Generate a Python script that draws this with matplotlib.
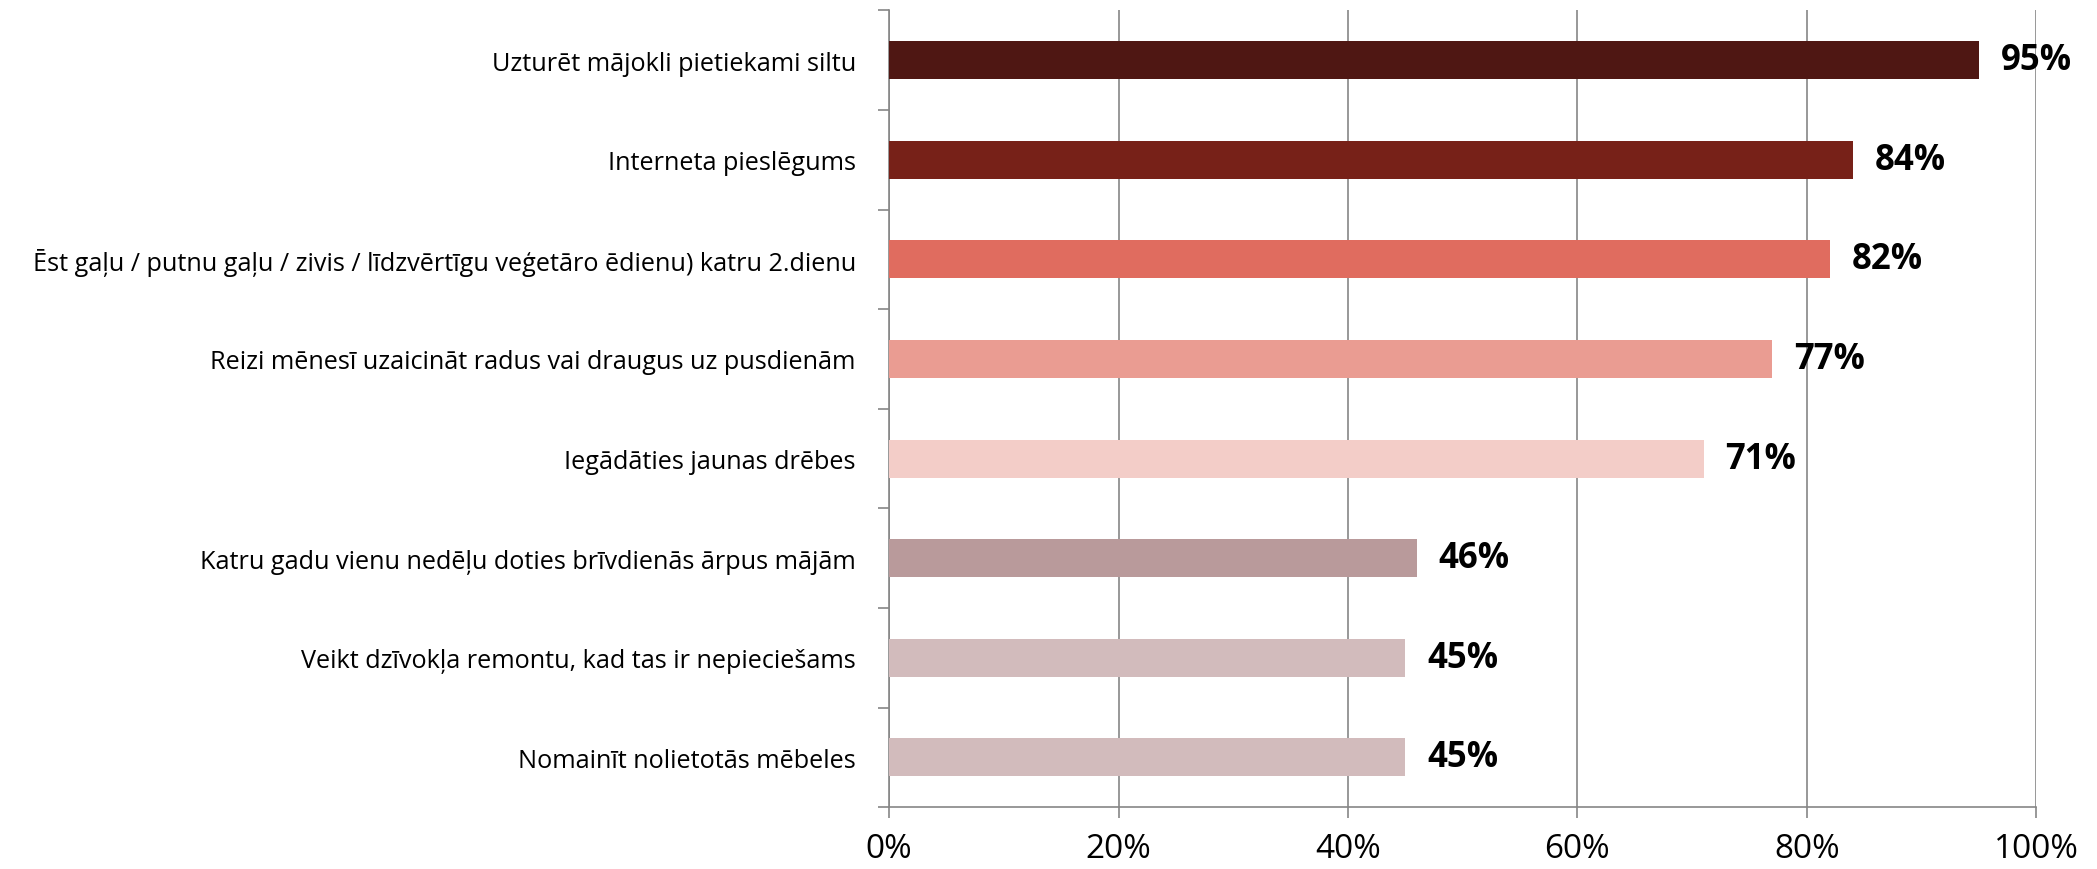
import numpy as np
import matplotlib
matplotlib.use("Agg")
import matplotlib.pyplot as plt
from matplotlib import font_manager

categories = [
    "Uzturēt mājokli pietiekami siltu",
    "Interneta pieslēgums",
    "Ēst gaļu / putnu gaļu / zivis / līdzvērtīgu veģetāro ēdienu) katru 2.dienu",
    "Reizi mēnesī uzaicināt radus vai draugus uz pusdienām",
    "Iegādāties jaunas drēbes",
    "Katru gadu vienu nedēļu doties brīvdienās ārpus mājām",
    "Veikt dzīvokļa remontu, kad tas ir nepieciešams",
    "Nomainīt nolietotās mēbeles",
]
values = [95, 84, 82, 77, 71, 46, 45, 45]
colors = ["#4F1713", "#772118", "#E06C5F", "#EA9C92",
          "#F3CDC8", "#B99A9B", "#D2BBBC", "#D2BBBC"]
x_ticks = [0, 20, 40, 60, 80, 100]

names = {f.name for f in font_manager.fontManager.ttflist}
family = "Liberation Sans Narrow" if "Liberation Sans Narrow" in names else "Open Sans"
plt.rcParams["font.family"] = [family, "DejaVu Sans"]

fig = plt.figure(figsize=(20.97, 8.7), dpi=100)
ax = fig.add_axes([0.424, 0.071, 0.547, 0.916])

y = np.arange(len(categories))
ax.barh(y, values, height=0.38, color=colors, zorder=3)
for yi, v in zip(y, values):
    ax.text(v + 1.9, yi, f"{v}%", va="center", ha="left",
            fontsize=25, fontweight="bold", color="black", zorder=4)

ax.set_xlim(0, 100)
ax.set_ylim(len(categories) - 0.5, -0.5)
ax.set_xticks(x_ticks)
ax.set_xticklabels([f"{t}%" for t in x_ticks], fontsize=24)
ax.set_yticks(y)
ax.set_yticklabels(categories, fontsize=18.2)
ax.set_yticks(np.arange(-0.5, len(categories)), minor=True)
ax.tick_params(axis="y", which="major", length=0, pad=24)
ax.tick_params(axis="y", which="minor", length=8, color="#868686", width=1.2)
ax.tick_params(axis="x", length=8, color="#868686", width=1.2, pad=10)

ax.grid(axis="x", color="#868686", linewidth=1.2, zorder=0)
for side in ["top", "right"]:
    ax.spines[side].set_visible(False)
for side in ["left", "bottom"]:
    ax.spines[side].set_color("#868686")
    ax.spines[side].set_linewidth(1.2)

fig.savefig("out.png", dpi=100)
